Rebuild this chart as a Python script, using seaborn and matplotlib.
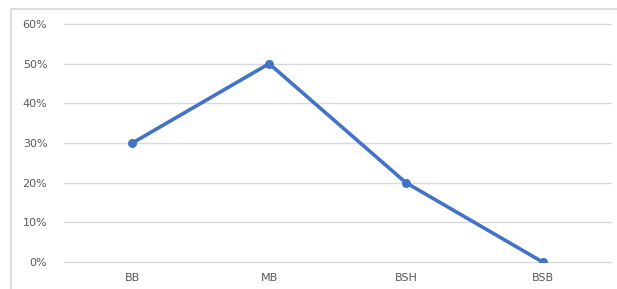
import matplotlib
matplotlib.use('Agg')
import matplotlib.pyplot as plt
import seaborn as sns
import pandas as pd
from matplotlib.patches import Rectangle
from matplotlib.ticker import PercentFormatter

categories = ['BB', 'MB', 'BSH', 'BSB']
values = [0.30, 0.50, 0.20, 0.00]

df = pd.DataFrame({'cat': categories, 'val': values})

sns.set_style('white')
plt.rcParams['font.family'] = ['DejaVu Sans']

fig = plt.figure(figsize=(6.17, 2.89), dpi=100)
ax = fig.add_axes([64 / 617, 1 - 262 / 289, 547 / 617, 238 / 289])

# outer chart border (left and top edges visible)
fig.patches.append(Rectangle((11 / 617, -0.05), 1.0, 1 - 9 / 289 + 0.05,
                             transform=fig.transFigure, fill=False,
                             edgecolor='#d9d9d9', linewidth=1.2))

sns.lineplot(data=df, x='cat', y='val', ax=ax, color='#4472C4', linewidth=2.6,
             marker='o', markersize=6.5, markeredgewidth=0, sort=False, zorder=3)

ax.set_xlim(-0.5, 3.5)
ax.set_ylim(0, 0.6)
ax.set_yticks([0, 0.1, 0.2, 0.3, 0.4, 0.5, 0.6])
ax.yaxis.set_major_formatter(PercentFormatter(1.0, decimals=0))
ax.grid(axis='y', color='#d9d9d9', linewidth=1)
for gl in ax.get_ygridlines():
    gl.set_clip_on(False)
ax.set_axisbelow(True)
for s in ax.spines.values():
    s.set_visible(False)
ax.tick_params(axis='both', length=0, labelsize=8, labelcolor='#595959')
ax.tick_params(axis='y', pad=12)
ax.tick_params(axis='x', pad=8)
ax.set_xlabel('')
ax.set_ylabel('')

fig.savefig('out.png', dpi=100)
